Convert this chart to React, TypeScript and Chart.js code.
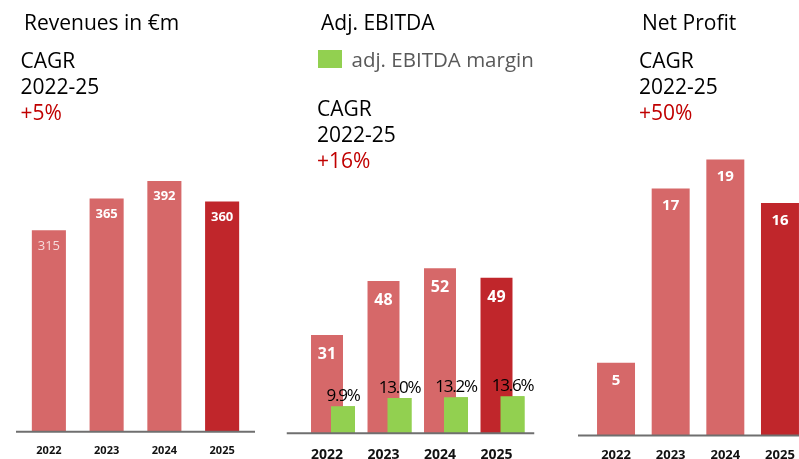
import React, { useEffect, useRef } from "react";
import { Chart, registerables } from "chart.js";

Chart.register(...registerables);
Chart.defaults.font.family = "'Open Sans', sans-serif";

// ---------- data ----------
const years = ["2022", "2023", "2024", "2025"];
const revenues = [315, 365, 392, 360];
const adjEbitda = [31, 48, 52, 49];
const ebitdaMargin = [9.9, 13.0, 13.2, 13.6];
const netProfit = [5, 17, 19, 16];

const panelTitles = ["Revenues in €m", "Adj. EBITDA", "Net Profit"];
const cagrLabel = ["CAGR", "2022-25"];
const cagrValues = ["+5%", "+16%", "+50%"];
const legendLabel = "adj. EBITDA margin";

// ---------- styles ----------
const LIGHT = "#D66869";
const DARK = "#C0262B";
const GREEN = "#92D050";
const barColors = [LIGHT, LIGHT, LIGHT, DARK];
const FONT = "'Open Sans', sans-serif";

// draws listed datasets' bars again so they sit on top of earlier ones
const onTopPlugin = {
  id: "onTop",
  afterDatasetsDraw(chart: any, _args: any, opts: any) {
    const list: number[] = opts.datasets || [];
    const ctx = chart.ctx;
    const area = chart.chartArea;
    list.forEach((di) => {
      const meta = chart.getDatasetMeta(di);
      ctx.save();
      ctx.beginPath();
      ctx.rect(area.left, area.top - 50, area.right - area.left, area.bottom - area.top + 50);
      ctx.clip();
      meta.data.forEach((el: any) => el.draw(ctx));
      ctx.restore();
    });
  },
};

const baselinePlugin = {
  id: "baseline",
  afterDatasetsDraw(chart: any, _args: any, opts: any) {
    const { ctx, chartArea } = chart;
    const y = chart.scales.y.getPixelForValue(0);
    ctx.save();
    ctx.strokeStyle = opts.color || "#777";
    ctx.lineWidth = opts.width || 2;
    ctx.beginPath();
    ctx.moveTo(chartArea.left - (opts.extLeft || 0), y);
    ctx.lineTo(chartArea.right + (opts.extRight || 0), y);
    ctx.stroke();
    ctx.restore();
  },
};

const valueLabelPlugin = {
  id: "valueLabels",
  afterDatasetsDraw(chart: any, _args: any, opts: any) {
    const ctx = chart.ctx;
    const sets = opts.sets || [];
    chart.data.datasets.forEach((ds: any, di: number) => {
      const cfg = sets[di];
      if (!cfg) return;
      const meta = chart.getDatasetMeta(di);
      meta.data.forEach((bar: any, i: number) => {
        const v = ds.data[i];
        const text = cfg.format(v);
        const size = cfg.size;
        ctx.save();
        ctx.font = `${cfg.weights ? cfg.weights[i] : "normal"} ${size}px ${FONT}`;
        ctx.fillStyle = cfg.colors[i];
        ctx.textAlign = "center";
        ctx.textBaseline = "alphabetic";
        if (cfg.spacing) (ctx as any).letterSpacing = cfg.spacing;
        const capMid = bar.y + cfg.offset;
        ctx.fillText(text, bar.x, capMid + 0.357 * size);
        ctx.restore();
      });
    });
  },
};

function xAxis(size: number, padding: number, labelOffset = 0) {
  return {
    grid: { display: false, drawTicks: false },
    border: { display: false },
    ticks: {
      color: "#111",
      font: { size, weight: "bold" as const },
      padding,
      labelOffset,
    },
  };
}

function revenueConfig(): any {
  return {
    type: "bar",
    data: {
      labels: years,
      datasets: [
        {
          data: revenues,
          backgroundColor: barColors,
          categoryPercentage: 1,
          barPercentage: 0.59,
        },
      ],
    },
    options: {
      responsive: false,
      animation: false,
      layout: { padding: { left: 20, right: 9, top: 176, bottom: 0 } },
      plugins: {
        legend: { display: false },
        tooltip: { enabled: false },
        baseline: { color: "#6f6f6f", width: 2, extLeft: 4, extRight: 4 },
        valueLabels: {
          sets: [
            {
              size: 13,
              offset: 14.7,
              weights: ["normal", "bold", "bold", "bold"],
              colors: ["#F6DCDC", "#fff", "#fff", "#fff"],
              format: (v: number) => String(v),
            },
          ],
        },
      },
      scales: {
        x: xAxis(11, 12),
        y: { display: false, min: 0, max: 400 },
      },
    },
    plugins: [baselinePlugin, valueLabelPlugin],
  };
}

function ebitdaConfig(): any {
  return {
    type: "bar",
    data: {
      labels: years,
      datasets: [
        {
          label: "Adj. EBITDA",
          data: adjEbitda,
          backgroundColor: barColors,
          categoryPercentage: 0.566,
          barPercentage: 2,
          yAxisID: "y",
        },
        {
          label: legendLabel,
          data: ebitdaMargin,
          backgroundColor: GREEN,
          categoryPercentage: 0.566,
          barPercentage: 1.5,
          yAxisID: "y2",
        },
      ],
    },
    options: {
      responsive: false,
      animation: false,
      layout: { padding: { left: 26.75, right: 7.25, top: 243, bottom: 0 } },
      plugins: {
        legend: { display: false },
        tooltip: { enabled: false },
        onTop: { datasets: [1] },
        baseline: { color: "#6f6f6f", width: 2, extLeft: 20, extRight: 1.5 },
        valueLabels: {
          sets: [
            {
              size: 16,
              offset: 18,
              weights: ["bold", "bold", "bold", "bold"],
              colors: ["#fff", "#fff", "#fff", "#fff"],
              format: (v: number) => String(v),
            },
            {
              size: 17,
              offset: -11,
              spacing: "-1.2px",
              weights: ["normal", "normal", "normal", "normal"],
              colors: ["#000", "#000", "#000", "#000"],
              format: (v: number) => v.toFixed(1) + "%",
            },
          ],
        },
      },
      scales: {
        x: xAxis(14, 13.5, -8),
        y: { display: false, min: 0, max: 60 },
        y2: { display: false, min: 0, max: 70 },
      },
    },
    plugins: [onTopPlugin, baselinePlugin, valueLabelPlugin],
  };
}

function profitConfig(): any {
  return {
    type: "bar",
    data: {
      labels: years,
      datasets: [
        {
          data: netProfit,
          backgroundColor: barColors,
          categoryPercentage: 1,
          barPercentage: 0.695,
        },
      ],
    },
    options: {
      responsive: false,
      animation: false,
      layout: { padding: { left: 28.7, right: 12.7, top: 145, bottom: 0 } },
      plugins: {
        legend: { display: false },
        tooltip: { enabled: false },
        baseline: { color: "#6f6f6f", width: 2, extLeft: 10.7, extRight: 20 },
        valueLabels: {
          sets: [
            {
              size: 15,
              offset: 16.5,
              weights: ["bold", "bold", "bold", "bold"],
              colors: ["#fff", "#fff", "#fff", "#fff"],
              format: (v: number) => String(v),
            },
          ],
        },
      },
      scales: {
        x: xAxis(13, 12),
        y: { display: false, min: 0, max: 20 },
      },
    },
    plugins: [baselinePlugin, valueLabelPlugin],
  };
}

function ChartCanvas(props: { left: number; width: number; height: number; make: () => any }) {
  const ref = useRef<HTMLCanvasElement | null>(null);
  useEffect(() => {
    if (!ref.current) return;
    const chart = new Chart(ref.current, props.make());
    return () => chart.destroy();
  }, []);
  return (
    <canvas
      ref={ref}
      width={props.width}
      height={props.height}
      style={{ position: "absolute", left: props.left, top: 0, width: props.width, height: props.height, display: "block" }}
    />
  );
}

const textBase: React.CSSProperties = {
  position: "absolute",
  fontFamily: FONT,
  fontSize: 21,
  lineHeight: "26px",
  whiteSpace: "pre",
  color: "#000",
};

function Cagr(props: { left: number; top: number; value: string }) {
  return (
    <div style={{ ...textBase, left: props.left, top: props.top }}>
      <div>{cagrLabel[0]}</div>
      <div>{cagrLabel[1]}</div>
      <div style={{ color: "#C00000" }}>{props.value}</div>
    </div>
  );
}

export default function App() {
  return (
    <div
      style={{
        position: "fixed",
        left: 0,
        top: 0,
        width: 799,
        height: 459,
        overflow: "hidden",
        background: "#fff",
      }}
    >
      <ChartCanvas left={0} width={260} height={469} make={revenueConfig} />
      <ChartCanvas left={280} width={260} height={477} make={ebitdaConfig} />
      <ChartCanvas left={560} width={260} height={475} make={profitConfig} />

      <div style={{ ...textBase, left: 24, top: 9 }}>{panelTitles[0]}</div>
      <div style={{ ...textBase, left: 321, top: 9 }}>{panelTitles[1]}</div>
      <div style={{ ...textBase, left: 642, top: 9 }}>{panelTitles[2]}</div>

      <div style={{ position: "absolute", left: 318, top: 50, width: 24, height: 18, background: GREEN }} />
      <div style={{ ...textBase, fontSize: 20.5, left: 351.5, top: 46, color: "#595959" }}>{legendLabel}</div>

      <Cagr left={20.5} top={47} value={cagrValues[0]} />
      <Cagr left={317} top={94.5} value={cagrValues[1]} />
      <Cagr left={639} top={47} value={cagrValues[2]} />
    </div>
  );
}
